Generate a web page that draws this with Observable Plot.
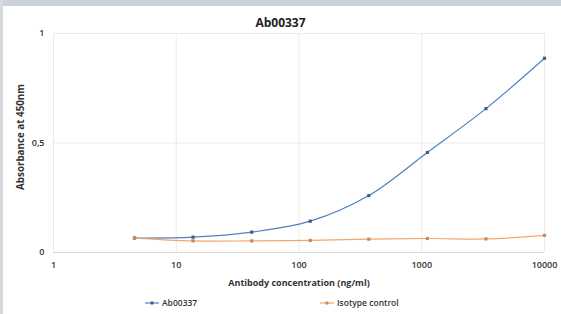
<!DOCTYPE html>
<html><head><meta charset="utf-8">
<script src="https://cdn.jsdelivr.net/npm/d3@7"></script>
<script src="https://cdn.jsdelivr.net/npm/@observablehq/plot@0.6"></script>
<style>
html,body{margin:0;padding:0;background:#fff;}
body{width:561px;height:314px;position:relative;overflow:hidden;font-family:"Open Sans",sans-serif;}
#frameTop{position:absolute;left:0;top:0;width:561px;height:6px;background:#cdd1d8;}
#frameLeft{position:absolute;left:0;top:0;width:3px;height:314px;background:#d6d9de;}
#title{position:absolute;top:14px;left:0;width:561px;text-align:center;font-weight:700;font-size:12px;color:#222;z-index:2;}
#chart{position:absolute;top:20px;left:0;}
#legend{position:absolute;top:297px;left:0;width:561px;height:16px;font-size:8.5px;font-weight:600;color:#333;}
.item{position:absolute;top:0;display:flex;align-items:center;gap:3px;}
</style></head>
<body>
<div id="frameTop"></div><div id="frameLeft"></div>
<div id="chart"></div>
<div id="title"></div>
<div id="legend"></div>
<script>
const concentrations = [4.57, 13.7, 41.2, 123.5, 370.4, 1111.1, 3333.3, 10000];
const ab00337 = [0.066, 0.070, 0.093, 0.143, 0.260, 0.457, 0.657, 0.887];
const isotype = [0.066, 0.053, 0.053, 0.055, 0.061, 0.064, 0.062, 0.078];
const seriesNames = ["Ab00337", "Isotype control"];
const seriesColors = ["#4f81bd", "#f2a66e"];
const markerColors = ["#3c5f86", "#c98a55"];
const xTicks = [1, 10, 100, 1000, 10000];
const yTicks = [0, 0.5, 1];
const yTickLabels = ["0", "0,5", "1"];
const titleText = "Ab00337";
const xLabel = "Antibody concentration (ng/ml)";
const yLabel = "Absorbance at 450nm";

const rows = [];
concentrations.forEach((c, i) => {
  rows.push({x: c, y: ab00337[i], s: seriesNames[0]});
  rows.push({x: c, y: isotype[i], s: seriesNames[1]});
});

document.getElementById("title").textContent = titleText;

const font = "Open Sans, sans-serif";
const chart = Plot.plot({
  width: 561, height: 276,
  marginLeft: 53, marginRight: 17, marginTop: 13, marginBottom: 44,
  style: {fontFamily: font, fontSize: "9px", fontWeight: 600, color: "#333", background: "transparent"},
  x: {type: "log", domain: [1, 10000]},
  y: {domain: [0, 1]},
  color: {domain: seriesNames, range: seriesColors},
  marks: [
    Plot.ruleX(xTicks, {stroke: "#ebebeb", strokeWidth: 1}),
    Plot.ruleY(yTicks.slice(1), {stroke: "#ebebeb", strokeWidth: 1}),
    Plot.ruleY([0], {stroke: "#d9d9d9", strokeWidth: 1}),
    Plot.axisX({ticks: xTicks, tickFormat: d => String(d), tickSize: 0, tickPadding: 9, label: null, fontSize: 9}),
    Plot.axisY({ticks: yTicks, tickFormat: d => yTickLabels[yTicks.indexOf(d)], tickSize: 0, tickPadding: 9, label: null, fontSize: 9}),
    Plot.text([xLabel], {frameAnchor: "bottom", lineAnchor: "middle", dy: 31, text: d => d, fontSize: 9, fontWeight: 700, fill: "#333"}),
    Plot.text([yLabel], {frameAnchor: "left", textAnchor: "middle", lineAnchor: "middle", dx: -33, dy: -6, rotate: -90, text: d => d, fontSize: 9.8, fontWeight: 700, fill: "#333"}),
    Plot.line(rows, {x: "x", y: "y", z: "s", stroke: "s", strokeWidth: 1.2, curve: "catmull-rom"}),
    Plot.dot(rows, {x: "x", y: "y", fill: d => markerColors[seriesNames.indexOf(d.s)], r: 1.8, symbol: "square"})
  ]
});
document.getElementById("chart").appendChild(chart);

const legend = document.getElementById("legend");
const lx = [145, 320];
seriesNames.forEach((n, i) => {
  const it = document.createElement("div");
  it.className = "item";
  it.style.left = lx[i] + "px";
  it.innerHTML = `<svg width="14" height="8"><line x1="0" y1="4" x2="14" y2="4" stroke="${seriesColors[i]}" stroke-width="1.2"/><rect x="5.5" y="2.5" width="3" height="3" fill="${markerColors[i]}"/></svg><span>${n}</span>`;
  legend.appendChild(it);
});
</script>
</body></html>
